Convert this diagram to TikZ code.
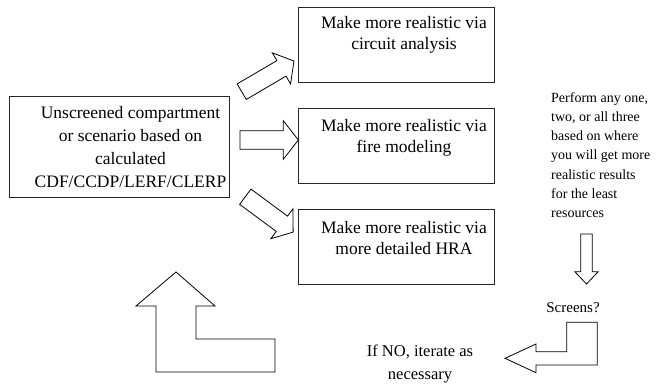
\documentclass[tikz,border=0pt]{standalone}
\usepackage{fontspec}
\setmainfont{Liberation Serif}
\begin{document}
\begin{tikzpicture}[x=1pt,y=-1pt,
  box/.style={draw=black!85,line width=0.9pt,inner sep=0pt,anchor=north west},
  boxtext/.style={font=\fontsize{17.5}{21}\selectfont,align=center,inner sep=0pt,anchor=north},
  note/.style={font=\fontsize{14}{19.3}\selectfont,inner sep=0pt},
  blockarrow/.style={draw=black,line width=0.8pt,fill=white,line join=miter}]
\useasboundingbox (0,0) rectangle (668,383);

% straight block arrow: tail at local origin, pointing along +x
% #1 length, #2 shaft half width, #3 head half width, #4 head length
\newcommand{\blockarrowpath}[4]{%
  (0,-#2) -- ({#1-#4},-#2) -- ({#1-#4},-#3) -- (#1,0) --
  ({#1-#4},#3) -- ({#1-#4},#2) -- (0,#2) -- cycle}

% source box
\node[box,minimum width=220pt,minimum height=101pt] (src) at (9,96) {};
\node[boxtext,font=\fontsize{17.5}{23}\selectfont] (srctext) at (130.5,106)
  {Unscreened compartment\\or scenario based on\\calculated\\CDF/CCDP/LERF/CLERP};

% three refinement boxes
\node[box,minimum width=196pt,minimum height=75pt] (circ) at (298,7) {};
\node[boxtext] (circtext) at (404,16) {Make more realistic via\\circuit analysis};

\node[box,minimum width=196pt,minimum height=75pt] (fire) at (298,108) {};
\node[boxtext] (firetext) at (404,119) {Make more realistic via\\fire modeling};

\node[box,minimum width=196pt,minimum height=75pt] (hra) at (298,209) {};
\node[boxtext] (hratext) at (404,221) {Make more realistic via\\more detailed HRA};

% fan-out arrows
\begin{scope}[shift={(241.7,91.7)},rotate=30.4]
  \draw[blockarrow] \blockarrowpath{60.6}{9}{18}{14.5};
\end{scope}
\begin{scope}[shift={(240,140)}]
  \draw[blockarrow] \blockarrowpath{58.3}{9.3}{19.3}{15};
\end{scope}
\begin{scope}[shift={(245.3,196.7)},rotate=-36.5]
  \draw[blockarrow] \blockarrowpath{59.5}{9.5}{18.6}{14};
\end{scope}

% guidance note
\node[note,align=left,anchor=north west] (hint) at (551,92)
  {Perform any one,\\two, or all three\\based on where\\you will get more\\realistic results\\for the least\\resources};

% down arrow to the decision
\begin{scope}[shift={(586.5,234)},rotate=-90]
  \draw[blockarrow] \blockarrowpath{50}{5.8}{11.7}{12.3};
\end{scope}

\node[font=\fontsize{15}{18}\selectfont,inner sep=0pt] (screens) at (573,308) {Screens?};

% bent arrow from the decision back to the left
\draw[blockarrow] (566.7,322.3) -- (597.3,322.3) -- (597.3,365) -- (536,365) --
  (536,372.7) -- (505,358.3) -- (536,344) -- (536,351.7) -- (566.7,351.7) -- cycle;

\node[note,align=center,anchor=north,font=\fontsize{16.5}{23}\selectfont] (iterate) at (420,345)
  {If NO, iterate as\\necessary};

% bent arrow returning up toward the source box
\draw[blockarrow] (176,272) -- (215,306) -- (196,306) -- (196,339) -- (275,339) --
  (275,372) -- (156,372) -- (156,306) -- (136,306) -- cycle;
\end{tikzpicture}
\end{document}
